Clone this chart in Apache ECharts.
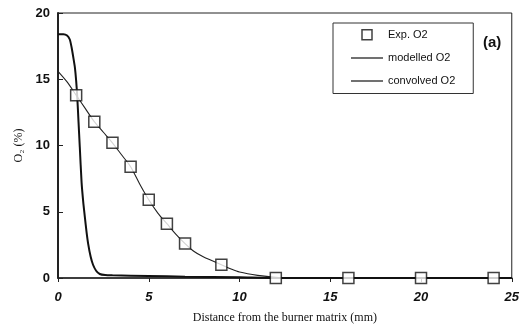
<!DOCTYPE html>
<html>
<head>
<meta charset="utf-8">
<script src="https://cdn.jsdelivr.net/npm/echarts@6/dist/echarts.min.js"></script>
<style>
  html, body { margin: 0; padding: 0; background: #fff; }
  #chart { width: 522px; height: 334px; }
</style>
</head>
<body>
<div id="chart"></div>
<script>
// Measured O2 concentration (%) vs distance from burner matrix (mm)
const expX = [1, 2, 3, 4, 5, 6, 7, 9, 12, 16, 20, 24];
const expY = [13.8, 11.8, 10.2, 8.4, 5.9, 4.1, 2.6, 1.0, 0, 0, 0, 0];

// Modelled O2 profile
const modX = [0, 0.5, 1, 1.5, 2, 2.5, 3, 3.5, 4, 4.5, 5, 5.5, 6, 6.5, 7, 7.5, 8, 8.5, 9, 9.5, 10, 11, 12, 13, 15, 20, 25];
const modY = [15.6, 14.8, 13.8, 12.8, 11.8, 11.0, 10.2, 9.3, 8.4, 7.1, 5.9, 4.9, 4.1, 3.3, 2.6, 2.0, 1.6, 1.3, 1.0, 0.7, 0.45, 0.2, 0.06, 0.02, 0, 0, 0];

// Convolved O2 profile
const convX = [0, 0.3, 0.5, 0.65, 0.75, 0.85, 0.93, 1.0, 1.06, 1.13, 1.2, 1.3, 1.4, 1.48, 1.57, 1.66, 1.8, 1.93, 2.1, 2.3, 2.6, 3.0, 5, 7, 10, 12, 25];
const convY = [18.4, 18.4, 18.3, 18.0, 17.4, 16.6, 15.9, 14.9, 13.7, 11.8, 9.9, 7.2, 5.6, 4.6, 3.5, 2.6, 1.6, 1.0, 0.55, 0.3, 0.22, 0.2, 0.15, 0.1, 0.05, 0, 0];

const xTicks = [0, 5, 10, 15, 20, 25];
const yTicks = [0, 5, 10, 15, 20];

const pairs = (xs, ys) => xs.map((x, i) => [x, ys[i]]);

const chart = echarts.init(document.getElementById('chart'), null, { renderer: 'canvas' });

chart.setOption({
  animation: false,
  backgroundColor: '#fff',
  grid: {
    left: 58, right: 7, top: 13, bottom: 56,
    show: true, borderColor: '#222', borderWidth: 1, backgroundColor: 'transparent'
  },
  legend: {
    orient: 'vertical',
    left: 333, top: 23,
    padding: [6, 18, 7, 18],
    itemGap: 12,
    itemWidth: 32, itemHeight: 10,
    borderColor: '#333', borderWidth: 1,
    backgroundColor: '#fff',
    textStyle: { fontFamily: 'Liberation Sans', fontSize: 11, color: '#111' },
    data: [
      { name: 'Exp. O2', icon: 'path://M0,0 L10,0 L10,10 L0,10 Z', itemStyle: { color: '#fff', borderColor: '#111', borderWidth: 1.5 } },
      { name: 'modelled O2', icon: 'path://M0,4.4 L32,4.4 L32,5.6 L0,5.6 Z', itemStyle: { color: '#111' } },
      { name: 'convolved O2', icon: 'path://M0,4.4 L32,4.4 L32,5.6 L0,5.6 Z', itemStyle: { color: '#111' } }
    ]
  },
  xAxis: {
    type: 'value', min: 0, max: 25, interval: 5,
    name: 'Distance from the burner matrix (mm)',
    nameLocation: 'middle', nameGap: 34,
    nameTextStyle: { fontFamily: 'Liberation Serif', fontSize: 12, color: '#111' },
    axisLine: { onZero: false, lineStyle: { color: '#222', width: 1.5 } },
    axisTick: { show: true, inside: false, length: 4, lineStyle: { color: '#222' } },
    axisLabel: {
      margin: 13, fontFamily: 'Liberation Sans', fontSize: 13, fontStyle: 'italic', fontWeight: 'bold', color: '#111',
      formatter: v => xTicks.includes(v) ? String(v) : ''
    },
    splitLine: { show: false }
  },
  yAxis: {
    type: 'value', min: 0, max: 20, interval: 5,
    name: 'O₂ (%)',
    nameLocation: 'middle', nameGap: 33, nameRotate: 90,
    nameTextStyle: { fontFamily: 'Liberation Serif', fontSize: 12, color: '#111' },
    axisLine: { onZero: false, lineStyle: { color: '#222', width: 2 } },
    axisTick: { show: true, inside: true, length: 5, lineStyle: { color: '#222' } },
    axisLabel: {
      margin: 8, fontFamily: 'Liberation Sans', fontSize: 13, fontWeight: 'bold', color: '#111',
      formatter: v => yTicks.includes(v) ? String(v) : ''
    },
    splitLine: { show: false }
  },
  series: [
    {
      name: 'Exp. O2', type: 'scatter', data: pairs(expX, expY),
      symbol: 'rect', symbolSize: 11, z: 5,
      itemStyle: { color: '#fff', borderColor: '#111', borderWidth: 1.5 }
    },
    {
      name: 'modelled O2', type: 'line', data: pairs(modX, modY),
      showSymbol: false, smooth: 0.3, z: 3,
      lineStyle: { color: '#222', width: 1.1 }, itemStyle: { color: '#222' }
    },
    {
      name: 'convolved O2', type: 'line', data: pairs(convX, convY),
      showSymbol: false, smooth: 0.2, z: 4,
      lineStyle: { color: '#111', width: 2 }, itemStyle: { color: '#111' }
    }
  ],
  graphic: [
    {
      type: 'text', left: 483, top: 35,
      style: { text: '(a)', font: 'bold 15px "Liberation Sans"', fill: '#111' }
    }
  ]
});
</script>
</body>
</html>
